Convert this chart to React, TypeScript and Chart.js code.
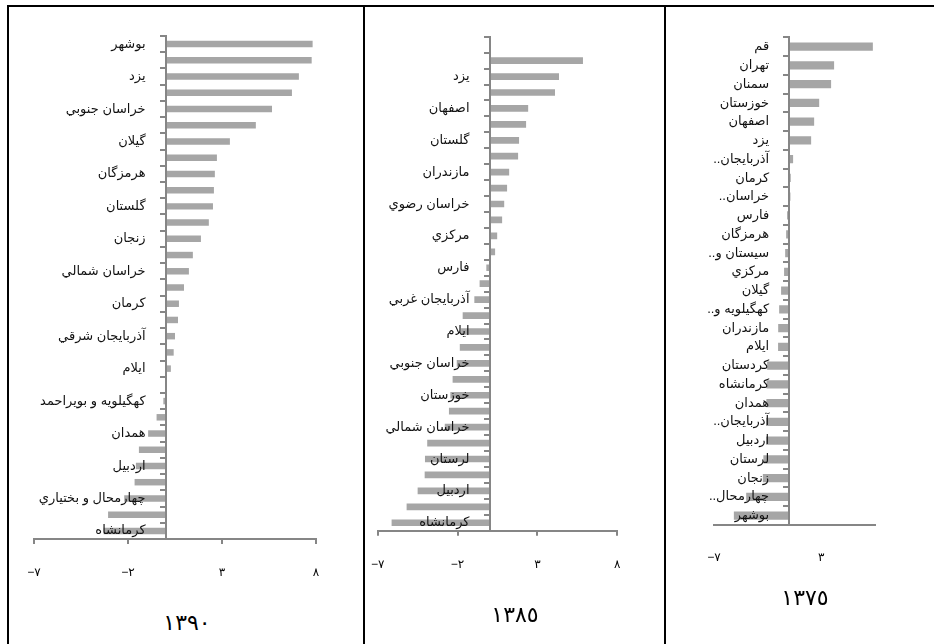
import React, { useEffect, useRef } from 'react';
import { Chart, registerables } from 'chart.js';
Chart.register(...registerables);

// ---- data ----
const labels1390 = ['بوشهر', '', 'يزد', '', 'خراسان جنوبي', '', 'گيلان', '', 'هرمزگان', '', 'گلستان', '', 'زنجان', '', 'خراسان شمالي', '', 'كرمان', '', 'آذربايجان شرقي', '', 'ايلام', '', 'كهگيلويه و بويراحمد', '', 'همدان', '', 'اردبيل', '', 'چهارمحال و بختياري', '', 'كرمانشاه'];
const values1390 = [7.82, 7.77, 7.09, 6.72, 5.66, 4.8, 3.42, 2.73, 2.62, 2.57, 2.52, 2.3, 1.88, 1.45, 1.24, 0.98, 0.71, 0.66, 0.5, 0.43, 0.28, 0.03, -0.12, -0.48, -0.93, -1.42, -1.58, -1.65, -2.2, -3.06, -3.3];

const labels1385 = ['', '', 'يزد', '', 'اصفهان', '', 'گلستان', '', 'مازندران', '', 'خراسان رضوي', '', 'مركزي', '', 'فارس', '', 'آذربايجان غربي', '', 'ايلام', '', 'خراسان جنوبي', '', 'خوزستان', '', 'خراسان شمالي', '', 'لرستان', '', 'اردبيل', '', 'كرمانشاه'];
const values1385 = [null, 5.85, 4.35, 4.1, 2.42, 2.29, 1.85, 1.79, 1.23, 1.1, 0.92, 0.79, 0.48, 0.35, -0.2, -0.62, -0.95, -1.68, -1.78, -1.86, -2.05, -2.31, -2.45, -2.54, -2.8, -3.9, -4.04, -4.06, -4.5, -5.19, -6.13];

const labels1375 = ['قم', 'تهران', 'سمنان', 'خوزستان', 'اصفهان', 'يزد', 'آذربايجان..', 'كرمان', 'خراسان..', 'فارس', 'هرمزگان', 'سيستان و..', 'مركزي', 'گيلان', 'كهگيلويه و..', 'مازندران', 'ايلام', 'كردستان', 'كرمانشاه', 'همدان', 'آذربايجان..', 'اردبيل', 'لرستان', 'زنجان', 'چهارمحال..', 'بوشهر'];
const values1375 = [7.8, 4.19, 3.91, 2.8, 2.33, 2.05, 0.37, 0.15, 0.12, -0.19, -0.28, -0.37, -0.47, -0.75, -0.93, -1.02, -1.03, -2.05, -2.1, -2.12, -2.15, -2.15, -2.4, -2.45, -4.0, -5.15];

const xTicksWide = [-7, -2, 3, 8];
const xTicksNarrow = [-7, 3];
const panelTitles = ['١٣٩٠', '١٣٨٥', '١٣٧٥'];

const AR_DIGITS = '٠١٢٣٤٥٦٧٨٩';
const toArabic = (n: number) => (n < 0 ? '−' : '') + String(Math.abs(n)).replace(/\d/g, (d) => AR_DIGITS[+d]);

const AXIS = '#868686';
const BAR = '#a6a6a6';
const FONT_FAMILY = "Arial, 'Liberation Sans', 'DejaVu Sans', sans-serif";
const Y_LABEL_GAP = 20;
// right-to-left embedding for the Persian category labels (trailing ".." sits on the left, as in the source)
const RLE = '\u202B';
const PDF = '\u202C';

const ltrPlugin = {
  id: 'ltrText',
  beforeDraw(chart: any) { chart.ctx.direction = 'ltr'; },
};

type PanelProps = {
  labels: string[];
  values: (number | null)[];
  xTicks: number[];
  drawXTicks: boolean;
  xLabelPad: number;
  barPct: number;
  pad: { left: number; right: number; top: number; bottom: number };
  left: number;
  top: number;
  width: number;
  height: number;
};

function Panel(p: PanelProps) {
  const ref = useRef<HTMLCanvasElement>(null);
  useEffect(() => {
    const chart = new Chart(ref.current!, {
      type: 'bar',
      data: {
        labels: p.labels,
        datasets: [{
          data: p.values as any,
          backgroundColor: BAR,
          borderWidth: 0,
          barPercentage: p.barPct,
          categoryPercentage: 1,
        }],
      },
      plugins: [ltrPlugin],
      options: {
        indexAxis: 'y',
        animation: false,
        responsive: false,
        devicePixelRatio: 1,
        layout: { padding: p.pad },
        plugins: { legend: { display: false }, tooltip: { enabled: false } },
        scales: {
          x: {
            type: 'linear',
            min: -7,
            max: 8,
            position: 'bottom',
            afterBuildTicks: (s: any) => { s.ticks = p.xTicks.map((v) => ({ value: v })); },
            afterFit: (s: any) => { s.height = 40; s.paddingLeft = 0; s.paddingRight = 0; },
            ticks: {
              autoSkip: false,
              maxRotation: 0,
              padding: p.xLabelPad,
              color: '#000',
              font: { family: FONT_FAMILY, size: 12 },
              callback: (v: any) => toArabic(Number(v)),
            },
            grid: { drawOnChartArea: false, drawTicks: p.drawXTicks, tickLength: 5, color: AXIS, lineWidth: 2 },
            border: { color: AXIS, width: 2 },
          },
          y: {
            type: 'category',
            position: { x: 0 } as any,
            afterFit: (s: any) => {
              s.paddingTop = 0;
              s.paddingBottom = 0;
              const proto = Object.getPrototypeOf(s);
              s._computeLabelItems = function (ca: any) {
                const items = proto._computeLabelItems.call(this, ca);
                items.forEach((it: any) => { it.options.translation[0] -= Y_LABEL_GAP; });
                return items;
              };
            },
            ticks: {
              autoSkip: false,
              z: 1,
              color: '#111',
              font: { family: FONT_FAMILY, size: 13 },
              callback: function (this: any, v: any) {
                const l = this.getLabelForValue(v);
                return l ? RLE + l + PDF : '';
              },
            } as any,
            grid: { drawOnChartArea: false, offset: true, tickLength: 5, color: AXIS, lineWidth: 2, z: 1 } as any,
            border: { color: AXIS, width: 2, z: 1 } as any,
          },
        },
      },
    });
    return () => chart.destroy();
  }, []);
  return (
    <canvas
      ref={ref}
      width={p.width}
      height={p.height}
      dir="ltr"
      style={{ position: 'absolute', left: p.left, top: p.top, width: p.width, height: p.height, direction: 'ltr' }}
    />
  );
}

const lineStyle = (left: number, top: number, width: number, height: number): React.CSSProperties => ({
  position: 'absolute', left, top, width, height, background: '#000',
});

const titleStyle = (cx: number, cy: number): React.CSSProperties => ({
  position: 'absolute', left: cx - 60, top: cy - 15, width: 120, height: 30, lineHeight: '30px',
  textAlign: 'center', fontFamily: "'DejaVu Sans', sans-serif", fontSize: 22, letterSpacing: 1, color: '#000',
});

export default function App() {
  return (
    <div style={{ position: 'absolute', left: 0, top: 0, width: 934, height: 644, background: '#fff', overflow: 'hidden' }}>
      <Panel labels={labels1390} values={values1390} xTicks={xTicksWide} drawXTicks={true} xLabelPad={21} barPct={0.4}
        pad={{ left: 24, right: 46, top: 28, bottom: 29 }} left={10} top={8} width={352} height={600} />
      <Panel labels={labels1385} values={values1385} xTicks={xTicksWide} drawXTicks={true} xLabelPad={22} barPct={0.42}
        pad={{ left: 11.7, right: 45.7, top: 28.7, bottom: 37.3 }} left={366} top={8} width={297} height={600} />
      <Panel labels={labels1375} values={values1375} xTicks={xTicksNarrow} drawXTicks={false} xLabelPad={25} barPct={0.44}
        pad={{ left: 47, right: 59, top: 29.3, bottom: 43 }} left={667} top={8} width={267} height={600} />
      <div style={lineStyle(7, 5, 927, 2)} />
      <div style={lineStyle(7, 5, 2, 639)} />
      <div style={lineStyle(363, 5, 2, 639)} />
      <div style={lineStyle(664, 5, 2, 639)} />
      <div style={titleStyle(187, 623)}>{panelTitles[0]}</div>
      <div style={titleStyle(515, 615)}>{panelTitles[1]}</div>
      <div style={titleStyle(805, 598)}>{panelTitles[2]}</div>
    </div>
  );
}
